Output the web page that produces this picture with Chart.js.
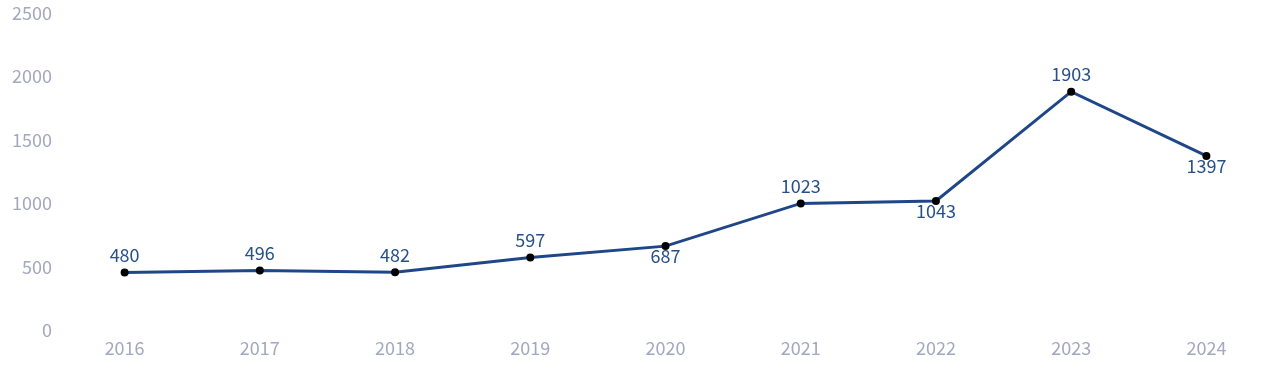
<!DOCTYPE html>
<html>
<head>
<meta charset="utf-8">
<script src="https://cdn.jsdelivr.net/npm/chart.js@4/dist/chart.umd.min.js"></script>
<style>
  html, body { margin: 0; padding: 0; background: #ffffff; }
  #wrap { width: 1280px; height: 382px; position: relative; }
</style>
</head>
<body>
<div id="wrap"><canvas id="c" width="1280" height="382"></canvas></div>
<script>
const years = ['2016', '2017', '2018', '2019', '2020', '2021', '2022', '2023', '2024'];
const counts = [480, 496, 482, 597, 687, 1023, 1043, 1903, 1397];
const labelSide = ['top', 'top', 'top', 'top', 'bottom', 'top', 'bottom', 'top', 'bottom'];
const yTicks = [0, 500, 1000, 1500, 2000, 2500];

const FONT = '"Noto Sans CJK SC", "Noto Sans", sans-serif';

const valueLabels = {
  id: 'valueLabels',
  afterDatasetsDraw(chart) {
    const ctx = chart.ctx;
    const meta = chart.getDatasetMeta(0);
    ctx.save();
    ctx.font = '18px ' + FONT;
    ctx.fillStyle = '#27508a';
    ctx.textAlign = 'center';
    ctx.textBaseline = 'middle';
    meta.data.forEach((pt, i) => {
      const dy = labelSide[i] === 'top' ? -17 : 10;
      ctx.fillText(String(counts[i]), pt.x, pt.y + dy);
    });
    ctx.restore();
  }
};

new Chart(document.getElementById('c'), {
  type: 'line',
  data: {
    labels: years,
    datasets: [{
      data: counts,
      borderColor: '#1f4788',
      borderWidth: 3,
      tension: 0,
      pointRadius: 4,
      pointHoverRadius: 4,
      pointBackgroundColor: '#000000',
      pointBorderColor: '#000000',
      pointBorderWidth: 0,
      fill: false
    }]
  },
  options: {
    responsive: false,
    animation: false,
    devicePixelRatio: 1,
    layout: { padding: { top: 15, right: 6, bottom: 19, left: 0 } },
    plugins: {
      legend: { display: false },
      tooltip: { enabled: false }
    },
    scales: {
      x: {
        type: 'category',
        offset: true,
        grid: { display: false, drawTicks: false },
        border: { display: false },
        ticks: {
          color: '#a4a7c0',
          font: { family: FONT, size: 18 },
          padding: 4,
          maxRotation: 0
        }
      },
      y: {
        min: 0,
        max: 2500,
        afterFit(scale) { scale.width = 57; },
        afterBuildTicks(scale) { scale.ticks = yTicks.map(v => ({ value: v })); },
        grid: { display: false, drawTicks: false },
        border: { display: false },
        ticks: {
          color: '#a4a7c0',
          font: { family: FONT, size: 18 },
          padding: 5,
          labelOffset: -3,
          callback: (v) => String(v)
        }
      }
    }
  },
  plugins: [valueLabels]
});
</script>
</body>
</html>
